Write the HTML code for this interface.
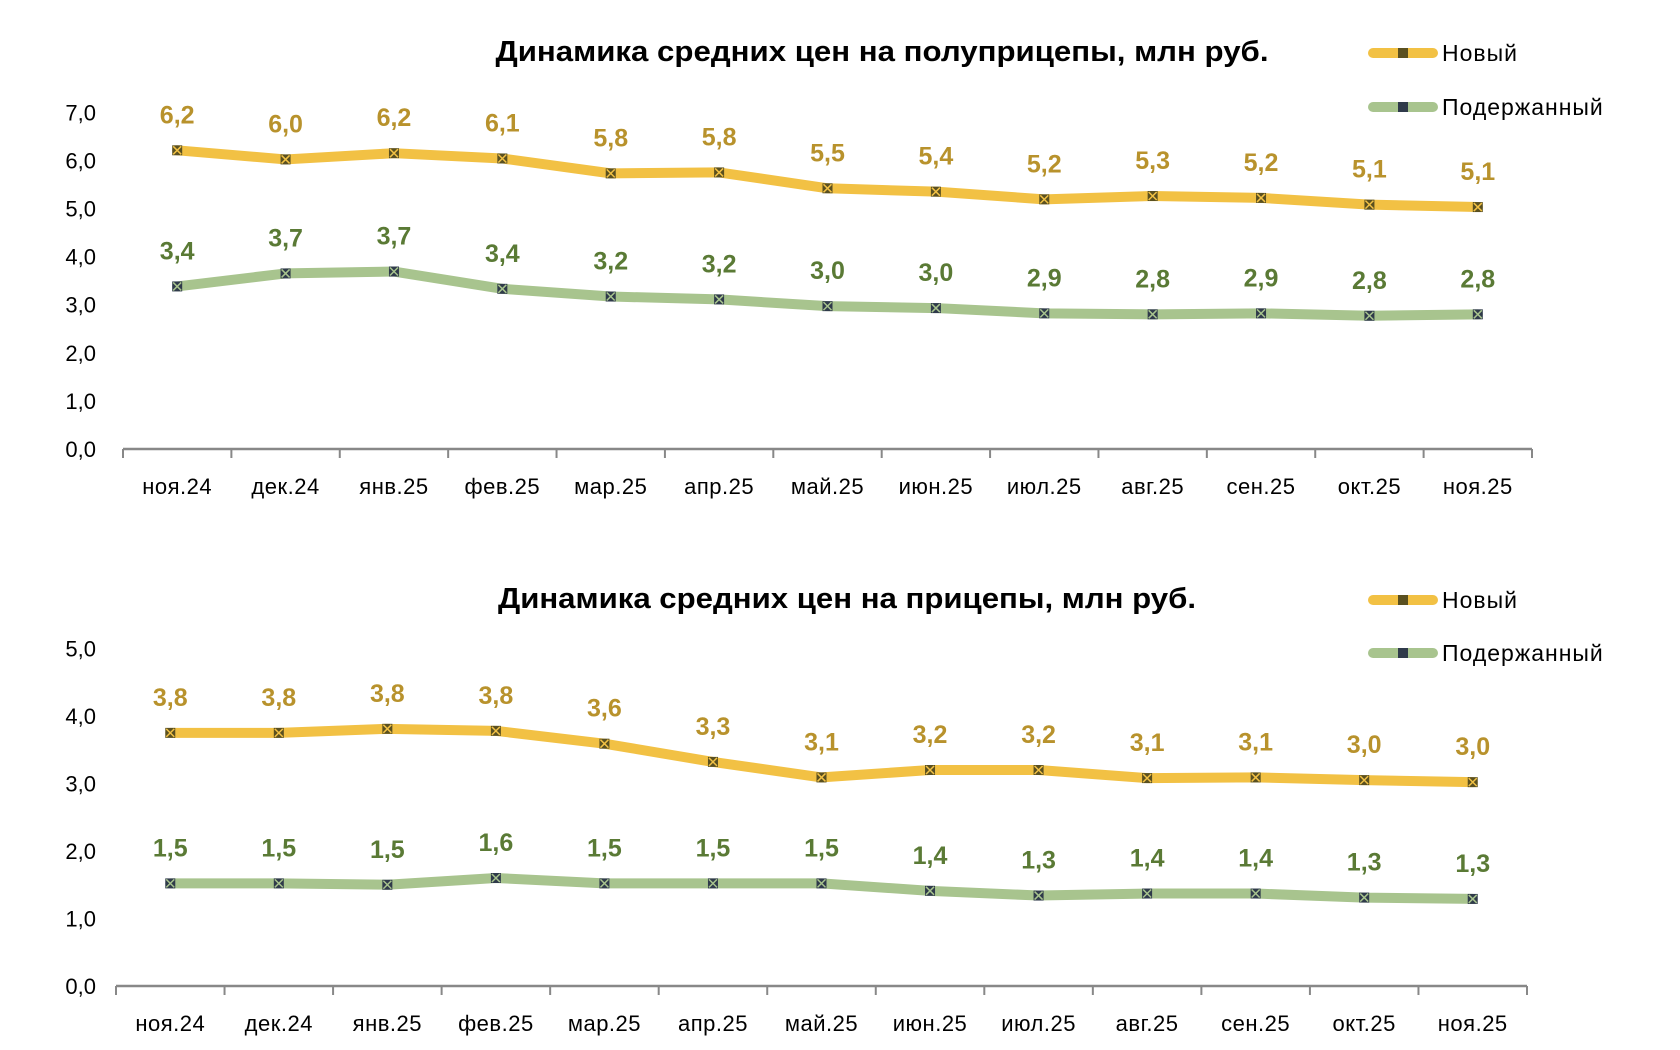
<!DOCTYPE html>
<html><head><meta charset="utf-8"><style>
html,body{margin:0;padding:0;background:#fff;}
svg{display:block;font-family:"Liberation Sans","DejaVu Sans",sans-serif;}
</style></head><body>
<svg id="c" width="1680" height="1050" viewBox="0 0 1680 1050"></svg>
<script>
const categories = ["ноя.24","дек.24","янв.25","фев.25","мар.25","апр.25","май.25","июн.25","июл.25","авг.25","сен.25","окт.25","ноя.25"];
const semiNew = [6.21,6.02,6.15,6.04,5.73,5.75,5.42,5.35,5.19,5.26,5.22,5.08,5.03];
const semiNewLabels = ["6,2","6,0","6,2","6,1","5,8","5,8","5,5","5,4","5,2","5,3","5,2","5,1","5,1"];
const semiUsed = [3.38,3.65,3.69,3.33,3.17,3.11,2.97,2.93,2.82,2.80,2.82,2.77,2.80];
const semiUsedLabels = ["3,4","3,7","3,7","3,4","3,2","3,2","3,0","3,0","2,9","2,8","2,9","2,8","2,8"];
const semiTicks = ["0,0","1,0","2,0","3,0","4,0","5,0","6,0","7,0"];
const trNew = [3.75,3.75,3.81,3.78,3.59,3.32,3.09,3.20,3.20,3.08,3.09,3.05,3.02];
const trNewLabels = ["3,8","3,8","3,8","3,8","3,6","3,3","3,1","3,2","3,2","3,1","3,1","3,0","3,0"];
const trUsed = [1.52,1.52,1.50,1.60,1.52,1.52,1.52,1.41,1.34,1.37,1.37,1.31,1.29];
const trUsedLabels = ["1,5","1,5","1,5","1,6","1,5","1,5","1,5","1,4","1,3","1,4","1,4","1,3","1,3"];
const trTicks = ["0,0","1,0","2,0","3,0","4,0","5,0"];

const NS="http://www.w3.org/2000/svg";
const svg=document.getElementById('c');
function mk(tag,attrs,parent){const e=document.createElementNS(NS,tag);for(const k in attrs)e.setAttribute(k,attrs[k]);(parent||svg).appendChild(e);return e;}

function chart(o){
  const g=mk('g',{});
  
  
  const band=(o.x1-o.x0)/categories.length;
  const xs=i=>o.x0+band*(i+0.5);
  const ys=v=>o.y0-v*o.unit;
  const t=mk('text',{x:o.tx-o.tw/2,y:o.ty,'font-size':29,'font-weight':'bold',fill:'#000',textLength:o.tw,lengthAdjust:'spacingAndGlyphs'},g);
  t.textContent=o.title;
  
  
  o.ticks.forEach((lab,i)=>{
    const tt=mk('text',{x:96,y:ys(i)+8,'text-anchor':'end','font-size':22,fill:'#000'},g);
    tt.textContent=lab;
    
    
  });
  const ax=mk('line',{x1:o.x0,y1:o.y0,x2:o.x1,y2:o.y0,stroke:'#888',"stroke-width":2.5},g);
  
  
  for(let i=0;i<=categories.length;i++){
    mk('line',{x1:o.x0+band*i,y1:o.y0,x2:o.x0+band*i,y2:o.y0+9,stroke:'#888',"stroke-width":2},g);
  }
  categories.forEach((c,i)=>{
    const tt=mk('text',{x:xs(i),y:o.y0+45,'text-anchor':'middle','font-size':22,fill:'#000','letter-spacing':0.5},g);
    tt.textContent=c;
    
    
  });
  o.series.forEach(s=>{
    const pts=s.vals.map((v,i)=>xs(i)+','+ys(v)).join(' ');
    const pl=mk('polyline',{points:pts,fill:'none',stroke:s.color,'stroke-width':10,'stroke-linejoin':'round','stroke-linecap':'round'},g);
    
    
    s.vals.forEach((v,i)=>{
      const x=xs(i),y=ys(v);
      const m=mk('g',{},g);
      
      
      mk('rect',{x:x-5,y:y-5,width:10,height:10,fill:s.mark},m);
      mk('path',{d:`M${x-4} ${y-4}L${x+4} ${y+4}M${x+4} ${y-4}L${x-4} ${y+4}`,stroke:s.color,'stroke-width':1.5},m);
      const lt=mk('text',{x:x,y:y-27,'text-anchor':'middle','font-size':25,'font-weight':'bold',fill:s.lab},g);
      lt.textContent=s.labels[i];
      
      
    });
    const lg=mk('g',{},g);
    
    
    mk('line',{x1:1373,y1:s.ly,x2:1433,y2:s.ly,stroke:s.color,'stroke-width':10,'stroke-linecap':'round'},lg);
    mk('rect',{x:1398,y:s.ly-5,width:10,height:10,fill:s.mark},lg);
    const ltx=mk('text',{x:1442,y:s.ly+8,'font-size':23,fill:'#000','letter-spacing':1},lg);
    ltx.textContent=s.legend;
  });
}
chart({name:'semitrailer-chart',title:'Динамика средних цен на полуприцепы, млн руб.',tx:882,tw:773,ty:61,
  x0:123,x1:1532,y0:449,unit:48.1,ticks:semiTicks,
  series:[
    {key:'new',vals:semiNew,labels:semiNewLabels,color:'#F2C144',mark:'#5a5020',lab:'#B8922C',legend:'Новый',ly:53},
    {key:'used',vals:semiUsed,labels:semiUsedLabels,color:'#A8C48E',mark:'#2f3a4a',lab:'#5A7A35',legend:'Подержанный',ly:107}
  ]});
chart({name:'trailer-chart',title:'Динамика средних цен на прицепы, млн руб.',tx:847,tw:698,ty:608,
  x0:116,x1:1527,y0:986,unit:67.5,ticks:trTicks,
  series:[
    {key:'new',vals:trNew,labels:trNewLabels,color:'#F2C144',mark:'#5a5020',lab:'#B8922C',legend:'Новый',ly:600},
    {key:'used',vals:trUsed,labels:trUsedLabels,color:'#A8C48E',mark:'#2f3a4a',lab:'#5A7A35',legend:'Подержанный',ly:653}
  ]});
</script>
</body></html>
